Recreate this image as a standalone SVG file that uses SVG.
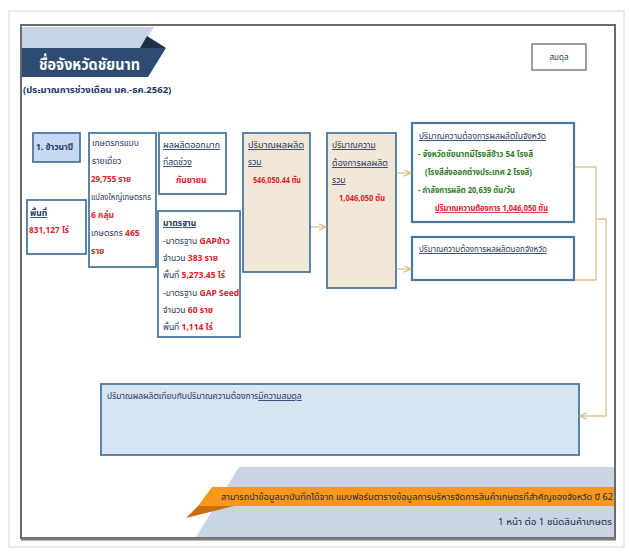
<svg xmlns="http://www.w3.org/2000/svg" width="629" height="552" viewBox="0 0 629 552">
<defs>
<style>
text{font-family:"Noto Sans Thai","Tahoma","Liberation Sans","DejaVu Sans",sans-serif;font-size:8.5px;fill:#1f3864;}
.b{font-weight:bold;}
.r{fill:#e0202a;font-weight:bold;}
.g{fill:#2f7a2a;font-weight:bold;}
.u{text-decoration:underline;}
.box{stroke:#4a78a2;stroke-width:1.8;}
.w{fill:#ffffff;}
.be{fill:#f3e8d8;}
.lb{fill:#c6d9f0;}
.conn{fill:none;stroke:#dcc593;stroke-width:1.3;}
</style>
<marker id="ah" viewBox="0 0 10 10" refX="9" refY="5" markerWidth="6" markerHeight="6" orient="auto">
<path d="M0,1 L9,5 L0,9" fill="none" stroke="#d5bd86" stroke-width="1.5"/>
</marker>
</defs>
<rect x="0" y="0" width="629" height="552" fill="#ffffff"/>
<rect x="9" y="11" width="615" height="536" fill="#fdfdfd" stroke="#e4e4e4" stroke-width="1.5"/>
<g id="frame">
<rect x="21" y="25" width="594" height="513" fill="#ffffff" stroke="#6b6b6b" stroke-width="2"/>
<line x1="21" y1="539" x2="616" y2="539" stroke="#7a7a7a" stroke-width="3"/>
</g>
<g id="title">
<polygon points="22,27 154,27 141,48 22,48" fill="#c8d5e6"/>
<polygon points="147,36 166,48 140,48" fill="#1e2f4a"/>
<polygon points="22,48 166,48 148,77 22,77" fill="#2f4b72"/>
<text x="39" y="70" class="b" textLength="101" lengthAdjust="spacingAndGlyphs" style="font-size:16px;fill:#ffffff">ชื่อจังหวัดชัยนาท</text>
<text x="23" y="93" class="b" style="font-size:9.5px">(ประมาณการช่วงเดือน มค.-ธค.2562)</text>
</g>
<g id="balance-tag">
<rect x="532" y="44" width="54" height="26" fill="#ffffff" stroke="#6b6b6b" stroke-width="1.3"/>
<text x="559" y="60" text-anchor="middle" style="font-size:8px">สมดุล</text>
</g>
<g id="n-rice">
<rect x="33" y="133" width="47" height="29" class="box lb"/>
<text x="36" y="150" class="b">1. ข้าวนาปี</text>
</g>
<g id="n-area">
<rect x="27" y="200" width="59" height="54" class="box w"/>
<text x="30" y="216" class="b u">พื้นที่</text>
<text x="29" y="233" class="r" textLength="40" lengthAdjust="spacingAndGlyphs">831,127 ไร่</text>
</g>
<g id="n-farmers">
<rect x="89" y="133" width="67" height="134" class="box w"/>
<text x="92" y="146">เกษตรกรแบบ</text>
<text x="92" y="164">รายเดี่ยว</text>
<text x="91" y="182" class="r" textLength="40" lengthAdjust="spacingAndGlyphs">29,755 ราย</text>
<text x="91" y="200" textLength="60" lengthAdjust="spacingAndGlyphs">แปลงใหญ่เกษตรกร</text>
<text x="91" y="218" class="r">6 กลุ่ม</text>
<text x="91" y="236">เกษตรกร <tspan class="r">465</tspan></text>
<text x="91" y="254" class="r">ราย</text>
</g>
<g id="n-peak">
<rect x="159" y="133" width="67" height="61" class="box w"/>
<text x="163" y="148" class="u" textLength="57" lengthAdjust="spacingAndGlyphs">ผลผลิตออกมาก</text>
<text x="163" y="165" class="u">ที่สุดช่วง</text>
<text x="176" y="183" class="r">กันยายน</text>
</g>
<g id="n-standard">
<rect x="158" y="211" width="82" height="126" class="box w"/>
<text x="163" y="226" class="b u">มาตรฐาน</text>
<text x="163" y="244">-มาตรฐาน <tspan class="r">GAPข้าว</tspan></text>
<text x="163" y="261">จำนวน <tspan class="r">383 ราย</tspan></text>
<text x="163" y="278">พื้นที่ <tspan class="r">5,273.45 ไร่</tspan></text>
<text x="163" y="296">-มาตรฐาน <tspan class="r">GAP Seed</tspan></text>
<text x="163" y="313">จำนวน <tspan class="r">60 ราย</tspan></text>
<text x="163" y="330">พื้นที่ <tspan class="r">1,114 ไร่</tspan></text>
</g>
<g id="n-supply">
<rect x="243" y="133" width="67" height="139" class="box be"/>
<text x="248" y="148" class="u" textLength="56" lengthAdjust="spacingAndGlyphs">ปริมาณผลผลิต</text>
<text x="248" y="165" class="u">รวม</text>
<text x="253" y="183" class="r" textLength="48" lengthAdjust="spacingAndGlyphs">546,050.44 ตัน</text>
</g>
<g id="n-demand">
<rect x="327" y="133" width="69" height="155" class="box be"/>
<text x="332" y="148" class="u">ปริมาณความ</text>
<text x="332" y="166" class="u" textLength="56" lengthAdjust="spacingAndGlyphs">ต้องการผลผลิต</text>
<text x="332" y="183" class="u">รวม</text>
<text x="339" y="201" class="r" textLength="46" lengthAdjust="spacingAndGlyphs">1,046,050 ตัน</text>
</g>
<g id="n-in-province">
<rect x="412" y="123" width="162" height="99" class="box w" style="stroke-width:2.2"/>
<text x="419" y="139" class="u" textLength="127" lengthAdjust="spacingAndGlyphs">ปริมาณความต้องการผลผลิตในจังหวัด</text>
<text x="418" y="157" class="g" textLength="115" lengthAdjust="spacingAndGlyphs">- จังหวัดชัยนาทมีโรงสีข้าว 54 โรงสี</text>
<text x="425" y="175" class="g" textLength="107" lengthAdjust="spacingAndGlyphs">(โรงสีส่งออกต่างประเทศ 2 โรงสี)</text>
<text x="418" y="193" class="g" textLength="97" lengthAdjust="spacingAndGlyphs">- กำลังการผลิต 20,639 ตัน/วัน</text>
<text x="435" y="211" class="r u" textLength="113" lengthAdjust="spacingAndGlyphs">ปริมาณความต้องการ 1,046,050 ตัน</text>
</g>
<g id="n-out-province">
<rect x="412" y="237" width="162" height="43" class="box w" style="stroke-width:2.2"/>
<text x="419" y="252" class="u" textLength="128" lengthAdjust="spacingAndGlyphs">ปริมาณความต้องการผลผลิตนอกจังหวัด</text>
</g>
<g id="n-balance">
<rect x="101" y="384" width="478" height="71" class="box" style="fill:#d7e4f3"/>
<text x="107" y="399">ปริมาณผลผลิตเทียบกับปริมาณความต้องการ<tspan class="u">มีความสมดุล</tspan></text>
</g>
<g id="connectors">
<line x1="311" y1="227" x2="326" y2="227" class="conn" marker-end="url(#ah)"/>
<line x1="397" y1="173" x2="411" y2="173" class="conn" marker-end="url(#ah)"/>
<line x1="397" y1="269" x2="411" y2="269" class="conn" marker-end="url(#ah)"/>
<polyline points="575,167 596,167 596,280 575,280" class="conn"/>
<polyline points="596,219 606,219 606,416 580,416" class="conn" marker-end="url(#ah)"/>
</g>
<g id="footer">
<polygon points="239,467 614,467 614,537 196,537" fill="#c9d5e4"/>
<polygon points="198,506 234,506 186,518" fill="#c96f0c"/>
<polygon points="212,487 614,487 614,506 198,506" fill="#f7971b"/>
<text x="221" y="499.5" textLength="392" lengthAdjust="spacingAndGlyphs" style="font-size:8px;fill:#1a2a44">สามารถนำข้อมูลมาบันทึกได้จาก แบบฟอร์มตารางข้อมูลการบริหารจัดการสินค้าเกษตรที่สำคัญของจังหวัด ปี 62</text>
<text x="498" y="525" textLength="114" lengthAdjust="spacingAndGlyphs" style="font-size:8px;fill:#1a2a44">1 หน้า ต่อ 1 ชนิดสินค้าเกษตร</text>
</g>
</svg>
